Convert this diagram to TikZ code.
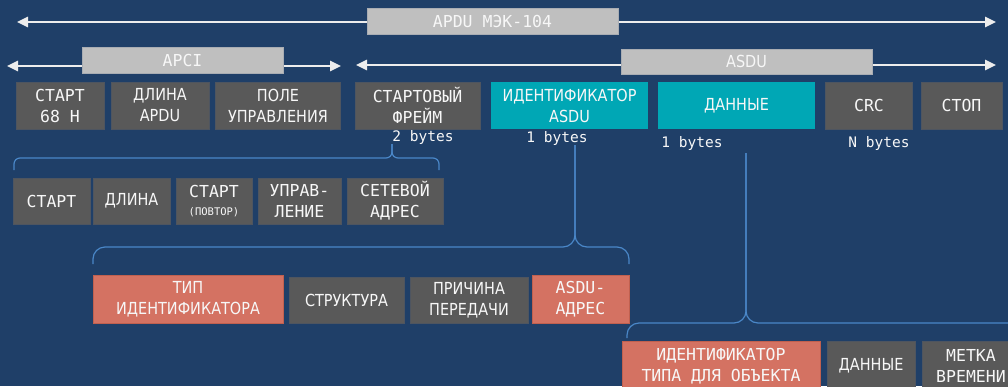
\documentclass[tikz,border=0pt]{standalone}
\usepackage{fontspec}
\usetikzlibrary{arrows.meta}
\newfontfamily\mnofont{DejaVu Sans Mono}
\newfontfamily\cndfont{DejaVu Sans}[FakeStretch=0.87]
\definecolor{bgc}{HTML}{1F3F68}
\definecolor{boxgray}{HTML}{595959}
\definecolor{boxgrayb}{HTML}{4E5560}
\definecolor{tealc}{HTML}{00A7B5}
\definecolor{salmonc}{HTML}{D47262}
\definecolor{salmonb}{HTML}{C0604F}
\definecolor{lgray}{HTML}{BFBFBF}
\definecolor{lgrayb}{HTML}{A9ADB3}
\definecolor{txt}{HTML}{F7F7F7}
\definecolor{bracec}{HTML}{4A87C8}
\definecolor{arrc}{HTML}{EDEDED}
\begin{document}
\begin{tikzpicture}[x=1pt,y=-1pt,
  cell/.style={inner sep=0pt,align=center,text=txt,line width=0.8pt},
  gbox/.style={cell,fill=boxgray,draw=boxgrayb},
  tbox/.style={cell,fill=tealc},
  sbox/.style={cell,fill=salmonc,draw=salmonb},
  lbox/.style={cell,fill=lgray,draw=lgrayb},
  mono/.style={font=\mnofont\fontsize{16.5}{21}\selectfont},
  prop/.style={font=\cndfont\fontsize{16.6}{21}\selectfont},
  bytes/.style={inner sep=0pt,text=txt,font=\mnofont\fontsize{14.5}{18}\selectfont},
  brc/.style={draw=bracec,line width=1.2pt},
  arr/.style={draw=arrc,line width=2.5pt,{Triangle[length=11pt,width=10pt]}-{Triangle[length=11pt,width=10pt]}}
]
\fill[bgc] (0,0) rectangle (1008,386);
\useasboundingbox (0,0) rectangle (1008,386);
\clip (0,0) rectangle (1008,386);

% arrows
\coordinate (aTL) at (17,22);  \coordinate (aTR) at (996,22);
\coordinate (aPL) at (7,66);   \coordinate (aPR) at (341,66);
\coordinate (aSL) at (356,65); \coordinate (aSR) at (996,65);
\draw[arr] (aTL) -- (aTR);
\draw[arr] (aPL) -- (aPR);
\draw[arr] (aSL) -- (aSR);
\node[lbox,mono,minimum width=251pt,minimum height=26pt] (apdu) at (492.5,21) {APDU МЭК-104};
\node[lbox,mono,minimum width=201pt,minimum height=26pt] (apci) at (182.5,60) {APCI};
\node[lbox,prop,minimum width=251pt,minimum height=25pt] (asdu) at (746.5,61.5) {ASDU};

% row 3
\node[gbox,mono,minimum width=88pt,minimum height=47pt] (start68) at (60,105.5) {СТАРТ\\68 Н};
\node[gbox,prop,minimum width=98pt,minimum height=47pt] (lenapdu) at (160,105.5) {ДЛИНА\\APDU};
\node[gbox,prop,minimum width=125pt,minimum height=47pt] (ctrl) at (278,105.5) {ПОЛЕ\\УПРАВЛЕНИЯ};
\node[gbox,mono,minimum width=125pt,minimum height=47pt] (frame) at (417.5,105.5) {СТАРТОВЫЙ\\ФРЕЙМ};
\node[tbox,prop,minimum width=157pt,minimum height=47pt] (idasdu) at (569.5,105.5) {ИДЕНТИФИКАТОР\\ASDU};
\node[tbox,prop,minimum width=157pt,minimum height=47pt] (data) at (736.5,105.5) {ДАННЫЕ};
\node[gbox,mono,minimum width=87pt,minimum height=47pt] (crc) at (869,105.5) {CRC};
\node[gbox,mono,minimum width=81pt,minimum height=47pt] (stop) at (961.5,105.5) {СТОП};

% byte labels
\node[bytes] (by2) at (423,137) {2 bytes};
\node[bytes] (by1a) at (557,138.5) {1 bytes};
\node[bytes] (by1b) at (692,143) {1 bytes};
\node[bytes] (byN) at (879,143) {N bytes};

% row 4
\node[gbox,mono,minimum width=77pt,minimum height=46pt] (start2) at (51.5,201) {СТАРТ};
\node[gbox,prop,minimum width=77pt,minimum height=46pt] (len2) at (131.5,201) {ДЛИНА};
\node[gbox,mono,minimum width=76pt,minimum height=46pt] (startrep) at (214,201)
  {СТАРТ\\[-3pt]{\fontsize{10.5}{13}\selectfont(ПОВТОР)}};
\node[gbox,mono,minimum width=83pt,minimum height=46pt] (ctrl2) at (299.5,201) {УПРАВ-\\ЛЕНИЕ};
\node[gbox,mono,minimum width=96pt,minimum height=46pt] (netaddr) at (395,201) {СЕТЕВОЙ\\АДРЕС};

% row 5
\node[sbox,prop,minimum width=190pt,minimum height=48pt] (typeid) at (188,299) {ТИП\\ИДЕНТИФИКАТОРА};
\node[gbox,prop,minimum width=115pt,minimum height=46pt] (struct) at (346.5,300) {СТРУКТУРА};
\node[gbox,prop,minimum width=118pt,minimum height=46pt] (reason) at (469,300) {ПРИЧИНА\\ПЕРЕДАЧИ};
\node[sbox,mono,minimum width=97pt,minimum height=48pt] (asduaddr) at (580.5,299) {ASDU-\\АДРЕС};

% row 6
\node[sbox,mono,minimum width=198pt,minimum height=50pt] (objtype) at (721,366) {ИДЕНТИФИКАТОР\\ТИПА ДЛЯ ОБЪЕКТА};
\node[gbox,prop,minimum width=88pt,minimum height=50pt] (data2) at (871,366) {ДАННЫЕ};
\node[gbox,mono,minimum width=98pt,minimum height=50pt] (tstamp) at (971,366) {МЕТКА\\ВРЕМЕНИ};

% braces
\coordinate (b1L) at (14,170);  \coordinate (b1M) at (392,158); \coordinate (b1R) at (439,170);
\draw[brc,rounded corners=6pt] (b1L) |- (b1M) -- (by2.south -| b1M);
\draw[brc,rounded corners=6pt] (by2.south -| b1M) -- (b1M) -| (b1R);

\coordinate (b2L) at (93,264);  \coordinate (b2M) at (575,247); \coordinate (b2R) at (629,264);
\coordinate (b2T) at (575,145);
\draw[brc,rounded corners=12pt] (b2L) |- (b2M) -- (b2T);
\draw[brc,rounded corners=12pt] (b2T) -- (b2M) -| (b2R);

\coordinate (b3L) at (627,338); \coordinate (b3M) at (746,323); \coordinate (b3R) at (1030,338);
\coordinate (b3T) at (746,153);
\draw[brc,rounded corners=12pt] (b3L) |- (b3M) -- (b3T);
\draw[brc,rounded corners=12pt] (b3T) -- (b3M) -| (b3R);
\end{tikzpicture}
\end{document}
